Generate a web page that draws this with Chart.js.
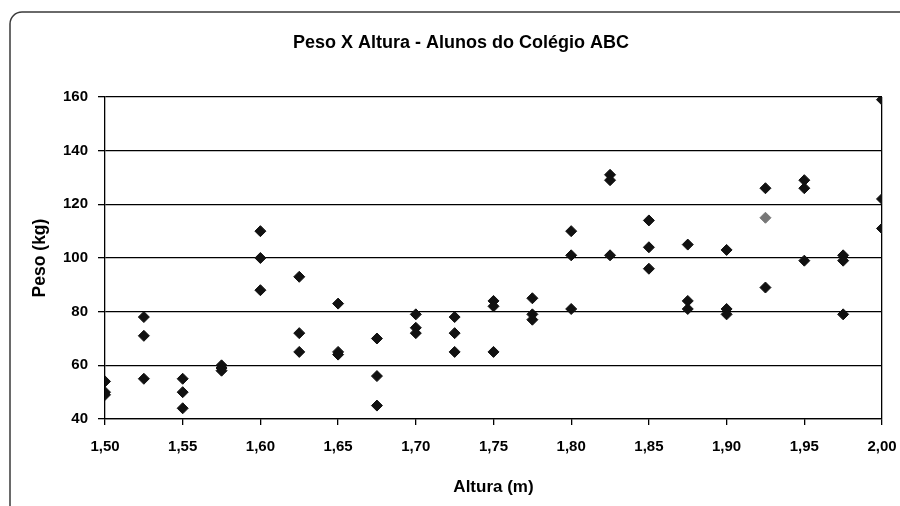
<!DOCTYPE html>
<html>
<head>
<meta charset="utf-8">
<script src="https://cdn.jsdelivr.net/npm/chart.js@4.4.0/dist/chart.umd.min.js"></script>
<style>
  html, body { margin: 0; padding: 0; background: #ffffff; }
  #wrap { width: 900px; height: 506px; }
</style>
</head>
<body>
<div id="wrap"><canvas id="c" width="900" height="506"></canvas></div>
<script>
// ---- Text ----
const chartTitle = 'Peso X Altura - Alunos do Colégio ABC';
const xAxisTitle = 'Altura (m)';
const yAxisTitle = 'Peso (kg)';

// ---- Data ----
const alturas = [
  1.50, 1.50, 1.50,
  1.525, 1.525, 1.525,
  1.55, 1.55, 1.55,
  1.575, 1.575, 1.575,
  1.60, 1.60, 1.60,
  1.625, 1.625, 1.625,
  1.65, 1.65, 1.65,
  1.675, 1.675, 1.675,
  1.70, 1.70, 1.70,
  1.725, 1.725, 1.725,
  1.75, 1.75, 1.75,
  1.775, 1.775, 1.775,
  1.80, 1.80, 1.80,
  1.825, 1.825, 1.825,
  1.85, 1.85, 1.85,
  1.875, 1.875, 1.875,
  1.90, 1.90, 1.90,
  1.925, 1.925,
  1.95, 1.95, 1.95,
  1.975, 1.975, 1.975,
  2.00, 2.00, 2.00
];
const pesos = [
  54, 50, 49,
  78, 71, 55,
  55, 50, 44,
  60, 59, 58,
  110, 100, 88,
  93, 72, 65,
  83, 65, 64,
  70, 56, 45,
  79, 74, 72,
  78, 72, 65,
  84, 82, 65,
  85, 79, 77,
  110, 101, 81,
  131, 129, 101,
  114, 104, 96,
  105, 84, 81,
  103, 81, 79,
  126, 89,
  129, 126, 99,
  101, 99, 79,
  159, 122, 111
];
// the single grey point
const destaqueAlturas = [1.925];
const destaquePesos = [115];

// ---- Ticks ----
const xTickValues = [1.50, 1.55, 1.60, 1.65, 1.70, 1.75, 1.80, 1.85, 1.90, 1.95, 2.00];
const xTickLabels = ['1,50', '1,55', '1,60', '1,65', '1,70', '1,75', '1,80', '1,85', '1,90', '1,95', '2,00'];
const yTickValues = [40, 60, 80, 100, 120, 140, 160];
const yTickLabels = ['40', '60', '80', '100', '120', '140', '160'];

const FONT = "'Liberation Sans', Arial, sans-serif";

const mainPoints = alturas.map((x, i) => ({ x: x, y: pesos[i] }));
const greyPoints = destaqueAlturas.map((x, i) => ({ x: x, y: destaquePesos[i] }));

const framePlugin = {
  id: 'frame',
  beforeDraw(chart) {
    const ctx = chart.ctx;
    ctx.save();
    ctx.fillStyle = '#ffffff';
    ctx.fillRect(0, 0, chart.width, chart.height);
    ctx.beginPath();
    ctx.moveTo(10, chart.height + 10);
    ctx.lineTo(10, 24);
    ctx.arcTo(10, 12, 22, 12, 12);
    ctx.lineTo(chart.width + 10, 12);
    ctx.strokeStyle = '#3a3a3a';
    ctx.lineWidth = 1.5;
    ctx.stroke();
    ctx.restore();
  }
};

new Chart(document.getElementById('c'), {
  type: 'scatter',
  data: {
    datasets: [
      {
        label: 'Alunos',
        data: mainPoints,
        pointStyle: 'rectRot',
        pointRadius: 5.5,
        pointBackgroundColor: '#111111',
        pointBorderColor: '#111111',
        pointBorderWidth: 1
      },
      {
        label: 'Destaque',
        data: greyPoints,
        pointStyle: 'rectRot',
        pointRadius: 5.5,
        pointBackgroundColor: '#777777',
        pointBorderColor: '#777777',
        pointBorderWidth: 1
      }
    ]
  },
  options: {
    responsive: false,
    animation: false,
    devicePixelRatio: 1,
    layout: { padding: { left: 40, right: 18, top: 0, bottom: 0 } },
    plugins: {
      legend: { display: false },
      tooltip: { enabled: false },
      title: {
        display: true,
        text: chartTitle,
        color: '#000000',
        font: { family: FONT, size: 18, weight: 'bold' },
        padding: { top: 32, bottom: 43.4 }
      }
    },
    scales: {
      x: {
        type: 'linear',
        min: 1.5,
        max: 2.0,
        afterBuildTicks(scale) { scale.ticks = xTickValues.map(v => ({ value: v })); },
        afterFit(scale) { scale.height = 87; scale.paddingLeft = 0; scale.paddingRight = 0; },
        ticks: {
          color: '#000000',
          padding: 13,
          maxRotation: 0,
          autoSkip: false,
          font: { family: FONT, size: 15, weight: 'bold' },
          callback: (value, index) => xTickLabels[index]
        },
        grid: {
          drawOnChartArea: true,
          drawTicks: true,
          tickLength: 6,
          tickColor: '#000000',
          lineWidth: 1.3,
          color: (ctx) => (ctx.index === xTickValues.length - 1 ? '#000000' : 'rgba(0,0,0,0)')
        },
        border: { display: true, color: '#000000', width: 1.3 },
        title: {
          display: true,
          text: xAxisTitle,
          color: '#000000',
          font: { family: FONT, size: 17, weight: 'bold' },
          padding: { top: 0, bottom: 8.8 }
        }
      },
      y: {
        type: 'linear',
        min: 40,
        max: 160,
        afterBuildTicks(scale) { scale.ticks = yTickValues.map(v => ({ value: v })); },
        afterFit(scale) { scale.width = 65; },
        ticks: {
          color: '#000000',
          padding: 10,
          font: { family: FONT, size: 15, weight: 'bold' },
          callback: (value, index) => yTickLabels[index]
        },
        grid: {
          drawTicks: true,
          tickLength: 7,
          tickColor: '#000000',
          color: '#000000',
          lineWidth: 1.3
        },
        border: { display: true, color: '#000000', width: 1.3 },
        title: {
          display: true,
          text: yAxisTitle,
          color: '#000000',
          font: { family: FONT, size: 17.5, weight: 'bold' },
          padding: { top: -10.5, bottom: 0 }
        }
      }
    }
  },
  plugins: [framePlugin]
});
</script>
</body>
</html>
